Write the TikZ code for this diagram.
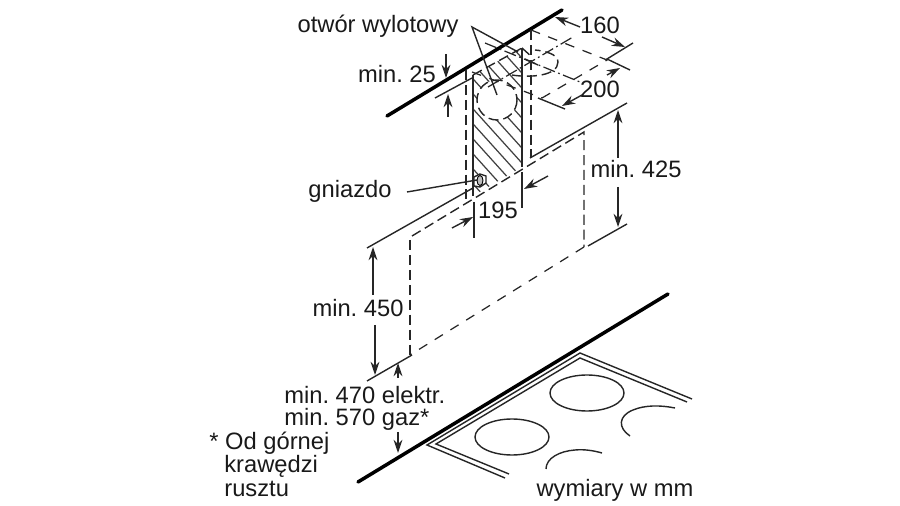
\documentclass[tikz,border=0pt]{standalone}
\usepackage{fontspec}
\setmainfont{Liberation Sans}
\usetikzlibrary{arrows.meta}
\frenchspacing
\tikzset{
 thinline/.style={line width=0.8pt,black!85},
 thickline/.style={line width=2pt,black,line cap=round},
 dashline/.style={line width=0.8pt,black!85,dash pattern=on 5.7pt off 2.8pt},
 sparseline/.style={line width=0.7pt,black!85,dash pattern=on 5.5pt off 5pt},
 centreline/.style={line width=0.7pt,black!85,dash pattern=on 7pt off 2pt on 1pt off 2pt},
 dimarrow/.style={line width=0.8pt,black!85,-{Stealth[length=7.5pt,width=5pt]}},
 lbl/.style={inner sep=0pt,font=\fontsize{13.5pt}{16pt}\selectfont,text=black!90}
}
\begin{document}
\begin{tikzpicture}[x=0.02cm,y=-0.02cm]
 \useasboundingbox (0,0) rectangle (900,506);
 % labels
 \node (lbl outlet) at (378,33) [lbl,anchor=base] {otwór wylotowy};
 \node (lbl 25) at (397,83) [lbl,anchor=base] {min. 25};
 \node (lbl 160) at (600,34) [lbl,anchor=base] {160};
 \node (lbl 200) at (600,98) [lbl,anchor=base] {200};
 \node (lbl 425) at (636,178) [lbl,anchor=base] {min. 425};
 \node (lbl socket) at (350,198) [lbl,anchor=base] {gniazdo};
 \node (lbl 195) at (498,219) [lbl,anchor=base] {195};
 \node (lbl 450) at (358,317) [lbl,anchor=base] {min. 450};
 \node (lbl 470) at (284,404) [lbl,anchor=base west] {min. 470 elektr.};
 \node (lbl 570) at (284,426) [lbl,anchor=base west] {min. 570 gaz*};
 \node (lbl note1) at (209,450) [lbl,anchor=base west] {* Od górnej};
 \node (lbl note2) at (224,473) [lbl,anchor=base west] {krawędzi};
 \node (lbl note3) at (224,497) [lbl,anchor=base west] {rusztu};
 \node (lbl mm) at (615,497) [lbl,anchor=base] {wymiary w mm};
 % wall lines
 \draw[thickline] (387,116) -- (562,10);
 \draw[thickline] (358,482) -- (668,294);
 % chimney
 \begin{scope}
  \clip (473,75) -- (522,48) -- (522,167) -- (473,196) -- cycle;
  \foreach \hy in {-20,-5,...,190}
   \draw[line width=0.7pt,black!75] (465,\hy) -- (530,\hy+72);
 \end{scope}
 \draw[dashline,fill=white] (497,100) ellipse (20 and 20);
 \draw[thinline] (473,75) -- (473,196);
 \draw[thinline] (522,48) -- (522,167);
 \draw[dashline] (473,75) -- (522,48);
 % socket
 \draw[thinline,fill=white] (474,177) -- (480,174) -- (486,176) -- (486,183) -- (480,187) -- (474,186) -- cycle;
 \draw[line width=0.5pt,fill=black!25] (480,180.5) ellipse (3 and 5);
 % guide lines
 \draw[dashline] (466,70) -- (466,203);
 \draw[dashline] (531,30) -- (531,158);
 % duct plan
 \coordinate (duct a) at (531,30);
 \coordinate (duct b) at (607,60);
 \coordinate (duct c) at (542,98);
 \coordinate (duct d) at (472,72);
 \draw[sparseline] (duct a) -- (duct b) -- (duct c);
 \draw[sparseline] (duct d) -- (duct c);
 \draw[dashline] (522,48) -- (532,57);
 \draw[dashline] (512,75) .. controls (530,78) and (558,76) .. (558,62) .. controls (558,54) and (545,51) .. (535,50);
 \draw[centreline] (488,87) -- (573,37);
 \draw[centreline] (485,43) -- (580,82);
 \draw[thinline] (525,59) -- (538,65);
 % outlet leader
 \coordinate (outlet apex) at (472,27);
 \coordinate (outlet a) at (497,95);
 \coordinate (outlet b) at (518,52);
 \draw[thinline] (outlet a) -- (outlet apex) -- (outlet b);
 % hood
 \coordinate (hood a) at (412,236);
 \coordinate (hood b) at (584,132);
 \coordinate (hood c) at (584,247);
 \coordinate (hood d) at (410,355);
 \draw[dashline] (hood a) -- (hood b) -- (hood c);
 \draw[sparseline] (hood c) -- (hood d);
 \draw[dashline] (410,240) -- (hood d);
 % extension lines
 \draw[thinline] (367,248) -- (473,188);
 \draw[thinline] (530,158) -- (627,103);
 \draw[thinline] (588,246) -- (627,224);
 \draw[thinline] (367,381) -- (412,355);
 \draw[thinline] (435,98) -- (472,78);
 \draw[thinline] (633,43) -- (607,59) -- (630,70);
 \draw[thinline] (538,98) -- (565,109);
 \draw[thinline] (474,202) -- (474,238);
 \draw[thinline] (522,172) -- (522,208);
 % socket leader
 \coordinate (socket end) at (477,180);
 \draw[thinline] (407,192) -- (socket end);
 % dimension arrows
 \draw[dimarrow] (446,54) -- (446,78);
 \draw[dimarrow] (448,117) -- (448,94);
 \draw[dimarrow] (580,27) -- (555,17);
 \draw[dimarrow] (602,37) -- (625,47);
 \draw[dimarrow] (607,75) -- (620,68);
 \draw[dimarrow] (582,95) -- (562,106);
 \draw[dimarrow] (618,158) -- (618,110);
 \draw[dimarrow] (618,187) -- (618,227);
 \draw[dimarrow] (548,176) -- (524,189);
 \draw[dimarrow] (452,228) -- (473,217);
 \draw[dimarrow] (373,295) -- (373,247);
 \draw[dimarrow] (375,325) -- (375,375);
 \draw[dimarrow] (398,378) -- (398,363);
 \draw[dimarrow] (398,432) -- (398,453);
 % cooktop
 \draw[thinline] (505,478) -- (427,445) -- (580,353) -- (692,399);
 \draw[thinline] (509,474) -- (436,444) -- (580,358) -- (687,402);
 \draw[thinline] (587,393) ellipse (37 and 18);
 \draw[thinline] (512,437) ellipse (37 and 18);
 \draw[thinline] (630,436) .. controls (618,428) and (618,416) .. (633,410) .. controls (645,405) and (660,405) .. (675,408);
 \draw[thinline] (546,469) .. controls (546,458) and (560,451) .. (575,450) .. controls (585,449) and (595,451) .. (602,453);
\end{tikzpicture}
\end{document}
